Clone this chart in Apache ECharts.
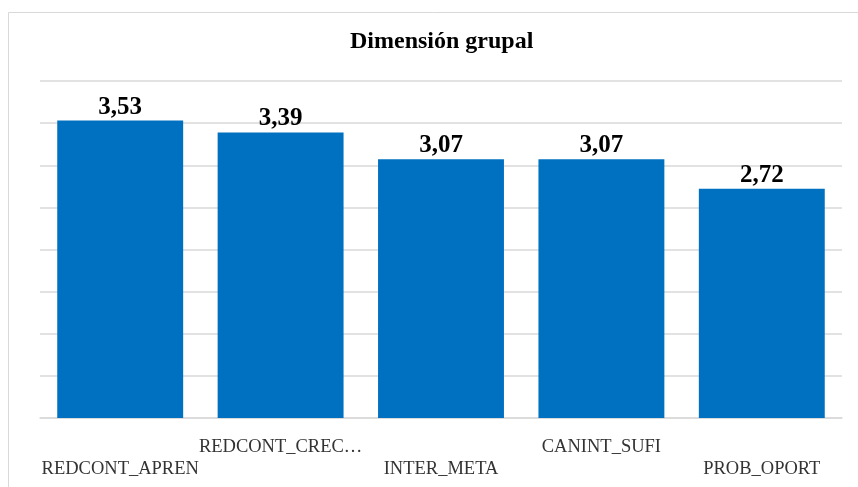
<!DOCTYPE html>
<html>
<head>
<meta charset="utf-8">
<style>
  html, body { margin: 0; padding: 0; background: #ffffff; }
  #chart { width: 858px; height: 487px; }
</style>
<script src="https://cdn.jsdelivr.net/npm/echarts@6/dist/echarts.min.js"></script>
</head>
<body>
<div id="chart"></div>
<script>
// Dimensión grupal: mean score per dimension
const categories = ['REDCONT_APREN', 'REDCONT_CREC…', 'INTER_META', 'CANINT_SUFI', 'PROB_OPORT'];
const values = [3.53, 3.39, 3.07, 3.07, 2.72];
const titleText = 'Dimensión grupal';

const serif = '"Liberation Serif", "Times New Roman", serif';
const chart = echarts.init(document.getElementById('chart'), null, { renderer: 'canvas' });

chart.setOption({
  backgroundColor: '#ffffff',
  animation: false,
  graphic: [
    {
      type: 'rect',
      silent: true,
      shape: { x: 8.5, y: 12.5, width: 900, height: 520 },
      style: { fill: 'none', stroke: '#d9d9d9', lineWidth: 1 }
    },
    {
      type: 'text',
      left: 441 - 91,
      top: 30,
      style: {
        text: titleText,
        font: 'bold 24px ' + serif,
        fill: '#000000'
      }
    }
  ],
  grid: { left: 40, right: 16, top: 81, bottom: 69, containLabel: false },
  xAxis: {
    type: 'category',
    data: categories,
    axisLine: { show: true, lineStyle: { color: '#d9d9d9', width: 1.5 } },
    axisTick: { show: false },
    axisLabel: {
      interval: 0,
      margin: 18,
      color: '#333333',
      fontFamily: serif,
      fontSize: 18.5,
      lineHeight: 22,
      formatter: (v, i) => (i % 2 === 0 ? '\n' + v : v)
    }
  },
  yAxis: {
    type: 'value',
    min: 0,
    max: 4,
    interval: 0.5,
    axisLine: { show: false },
    axisTick: { show: false },
    axisLabel: { show: false },
    splitLine: { show: true, lineStyle: { color: '#d9d9d9', width: 1.5 } }
  },
  series: [{
    type: 'bar',
    data: values,
    barCategoryGap: '21.5%',
    itemStyle: { color: '#0070C0' },
    label: {
      show: true,
      position: 'top',
      distance: 1,
      color: '#000000',
      fontFamily: serif,
      fontWeight: 'bold',
      fontSize: 25,
      formatter: p => p.value.toFixed(2).replace('.', ',')
    }
  }]
});
</script>
</body>
</html>
